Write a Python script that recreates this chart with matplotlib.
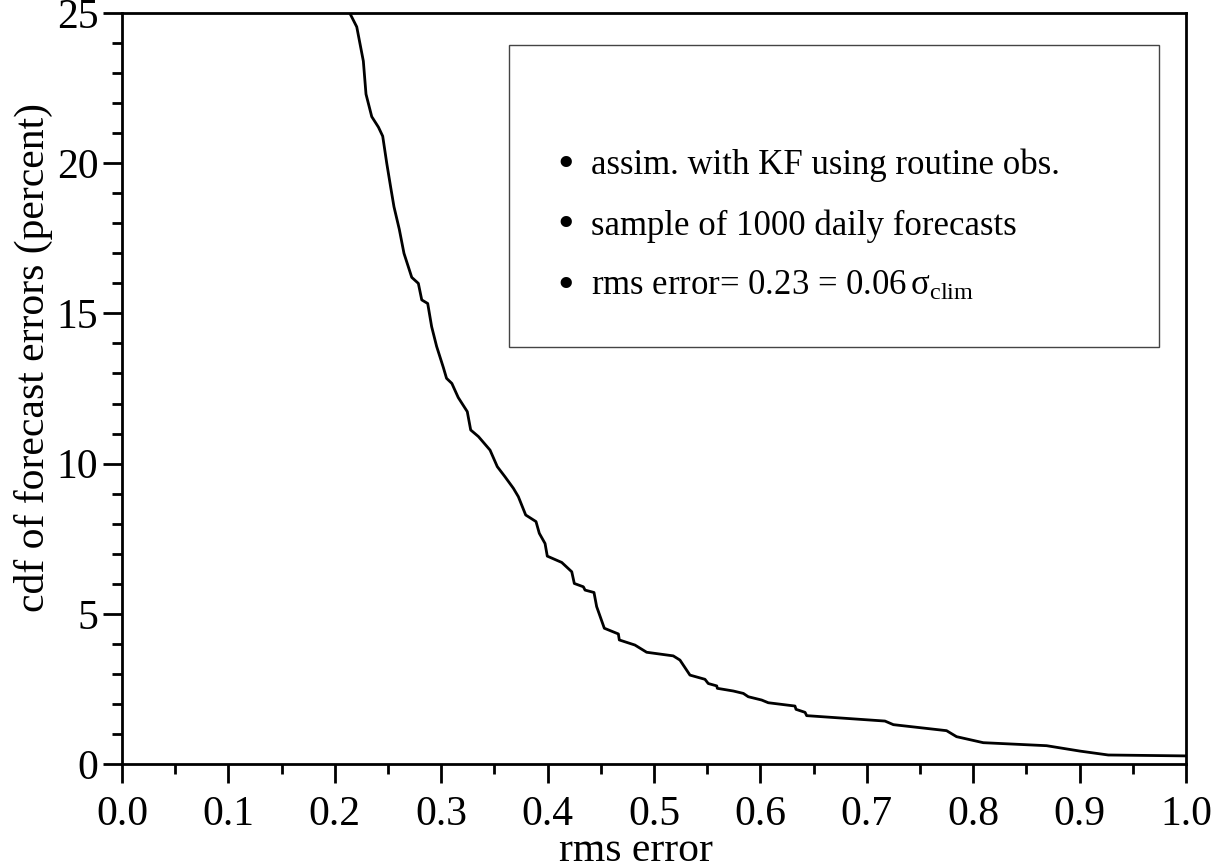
import matplotlib
matplotlib.use("Agg")
import matplotlib.pyplot as plt
from matplotlib.ticker import MultipleLocator

plt.rcParams['font.family'] = ['Liberation Serif', 'DejaVu Serif']
plt.rcParams['mathtext.fontset'] = 'custom'
plt.rcParams['mathtext.rm'] = 'Liberation Serif'
plt.rcParams['mathtext.it'] = 'Liberation Serif:italic'

# cdf of rms forecast error (percent of forecasts above a given error)
rms_err = [0.214, 0.2206, 0.2268, 0.2293, 0.2347, 0.241, 0.245, 0.2488, 0.2525, 0.2556,
           0.2606, 0.265, 0.2723, 0.2785, 0.2817, 0.2873, 0.291, 0.2957, 0.302, 0.305,
           0.31, 0.316, 0.3245, 0.3277, 0.335, 0.3459, 0.3527, 0.36, 0.3678, 0.3725,
           0.3794, 0.3891, 0.3922, 0.3976, 0.3997, 0.4133, 0.4227, 0.4251, 0.4336, 0.4352,
           0.4436, 0.4461, 0.4533, 0.4665, 0.4674, 0.4821, 0.4931, 0.5181, 0.5244, 0.5338,
           0.5479, 0.551, 0.559, 0.5595, 0.5746, 0.584, 0.5886, 0.6012, 0.6074, 0.6325,
           0.6335, 0.642, 0.6435, 0.7171, 0.725, 0.775, 0.7844, 0.8095, 0.869, 0.9004,
           0.927, 1.0]
cdf_pct = [25.0, 24.54, 23.4, 22.3, 21.55, 21.2, 20.9, 20.0, 19.2, 18.55,
           17.8, 17.0, 16.2, 16.0, 15.45, 15.33, 14.56, 13.9, 13.2, 12.84,
           12.67, 12.2, 11.73, 11.12, 10.9, 10.45, 9.9, 9.56, 9.18, 8.9,
           8.29, 8.07, 7.68, 7.34, 6.92, 6.71, 6.4, 6.01, 5.9, 5.79,
           5.71, 5.24, 4.52, 4.33, 4.13, 3.96, 3.72, 3.6, 3.46, 2.96,
           2.82, 2.68, 2.6, 2.52, 2.43, 2.35, 2.24, 2.13, 2.04, 1.93,
           1.82, 1.72, 1.61, 1.43, 1.31, 1.11, 0.91, 0.71, 0.61, 0.43,
           0.30, 0.27]

notes = ["assim. with KF using routine obs.",
         "sample of 1000 daily forecasts",
         r"rms error= 0.23 = 0.06$\,\mathrm{\sigma}_{\mathrm{clim}}$"]

fig = plt.figure(figsize=(12.12, 8.68), dpi=100)
ax = fig.add_axes([0.1007, 0.1198, 0.8778, 0.8652])

ax.plot(rms_err, cdf_pct, color='black', lw=2)

ax.set_xlim(0, 1)
ax.set_ylim(0, 25)
ax.xaxis.set_major_locator(MultipleLocator(0.1))
ax.xaxis.set_minor_locator(MultipleLocator(0.05))
ax.yaxis.set_major_locator(MultipleLocator(5))
ax.yaxis.set_minor_locator(MultipleLocator(1))
ax.xaxis.set_major_formatter(plt.FormatStrFormatter('%.1f'))

ax.tick_params(which='both', direction='out', width=2, top=False, right=False,
               labelsize=30, colors='black')
ax.tick_params(which='major', length=14)
ax.tick_params(axis='x', which='major', pad=9)
ax.tick_params(axis='y', which='major', pad=3)
ax.tick_params(which='minor', length=7)
for s in ax.spines.values():
    s.set_linewidth(2)

fig.text(636 / 1212, 1 - 851 / 868, 'rms error', fontsize=30,
         ha='center', va='center')
fig.text(33 / 1212, 1 - 357 / 868, 'cdf of forecast errors (percent)',
         fontsize=30, rotation=90, ha='center', va='center')

# annotation box
box = plt.Rectangle((0.3634, 0.555), 0.6109, 0.4024, transform=ax.transAxes,
                    fill=False, edgecolor='#444444', lw=1.0)
ax.add_patch(box)
for i, t in enumerate(notes):
    yy = 0.797 - i * 0.0805
    ax.text(0.4173, yy, u'\u2022', transform=ax.transAxes, fontsize=34,
            va='center', ha='center')
    ax.text(0.4408, yy, t, transform=ax.transAxes, fontsize=25,
            va='center', ha='left')

fig.savefig('out.png', dpi=100)
